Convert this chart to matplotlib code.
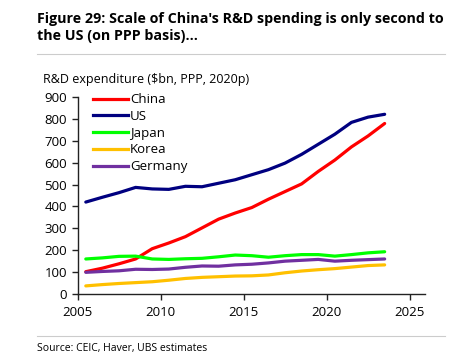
import matplotlib
matplotlib.use("Agg")
import matplotlib.pyplot as plt
from matplotlib.lines import Line2D

plt.rcParams['font.family'] = ['Open Sans', 'DejaVu Sans']

# yearly values plotted at mid-year
years = [2005, 2006, 2007, 2008, 2009, 2010, 2011, 2012, 2013, 2014,
         2015, 2016, 2017, 2018, 2019, 2020, 2021, 2022, 2023]
china = [102, 118, 138, 160, 207, 233, 262, 302, 342, 370,
         395, 433, 468, 503, 560, 612, 672, 722, 779]
us = [420, 442, 463, 487, 480, 478, 492, 490, 506, 522,
      545, 568, 598, 638, 684, 730, 784, 808, 821]
japan = [160, 165, 172, 173, 160, 158, 161, 163, 170, 178,
         175, 168, 175, 180, 180, 173, 180, 188, 193]
korea = [37, 43, 48, 52, 56, 63, 71, 76, 79, 82,
         83, 87, 97, 105, 111, 116, 123, 130, 133]
germany = [99, 103, 106, 113, 112, 114, 122, 128, 127, 133,
           136, 142, 150, 154, 158, 150, 154, 157, 160]

series = [("China", china, "#FF0000"),
          ("US", us, "#000080"),
          ("Japan", japan, "#00FF00"),
          ("Korea", korea, "#FFC000"),
          ("Germany", germany, "#7030A0")]

fig = plt.figure(figsize=(4.64, 3.64), dpi=100)
ax = fig.add_axes([77.5 / 464, 1 - 294 / 364, (425 - 77.5) / 464, (294 - 97) / 364])

xs = [y + 0.5 for y in years]
for name, vals, col in series:
    ax.plot(xs, vals, color=col, lw=2.3, label=name, solid_capstyle='round',
            solid_joinstyle='round')

ax.set_xlim(2005, 2025.93)
ax.set_ylim(0, 900)
ax.set_xticks([2005, 2010, 2015, 2020, 2025])
ax.set_yticks(range(0, 901, 100))
for s in ['top', 'right']:
    ax.spines[s].set_visible(False)
for s in ['left', 'bottom']:
    ax.spines[s].set_linewidth(1.0)
    ax.spines[s].set_color('#222222')
ax.tick_params(axis='both', labelsize=9.5, length=4, width=1, color='#222222')
ax.tick_params(axis='x', pad=5)

handles = [Line2D([0], [0], color=c, lw=2.3) for _, _, c in series]
ax.legend(handles, [n for n, _, _ in series], loc='upper left',
          bbox_to_anchor=(0.03, 1.045), frameon=False, fontsize=9.5,
          handlelength=2.6, handletextpad=0.2, labelspacing=0.28,
          borderaxespad=0)

fig.text(37 / 464, 1 - 12 / 364,
         "Figure 29: Scale of China's R&D spending is only second to\nthe US (on PPP basis)...",
         fontsize=10.3, fontweight='bold', va='top', ha='left', linespacing=1.3)
fig.add_artist(Line2D([37 / 464, 445 / 464], [1 - 54 / 364] * 2, color='#cccccc', lw=0.8))
fig.text(43 / 464, 1 - 80 / 364, "R&D expenditure ($bn, PPP, 2020p)",
         fontsize=9, va='center', ha='left')
fig.add_artist(Line2D([37 / 464, 445 / 464], [1 - 336 / 364] * 2, color='#cccccc', lw=0.8))
fig.text(37 / 464, 1 - 348 / 364, "Source: CEIC, Haver, UBS estimates",
         fontsize=7.5, va='center', ha='left')

fig.savefig("out.png", dpi=100)
